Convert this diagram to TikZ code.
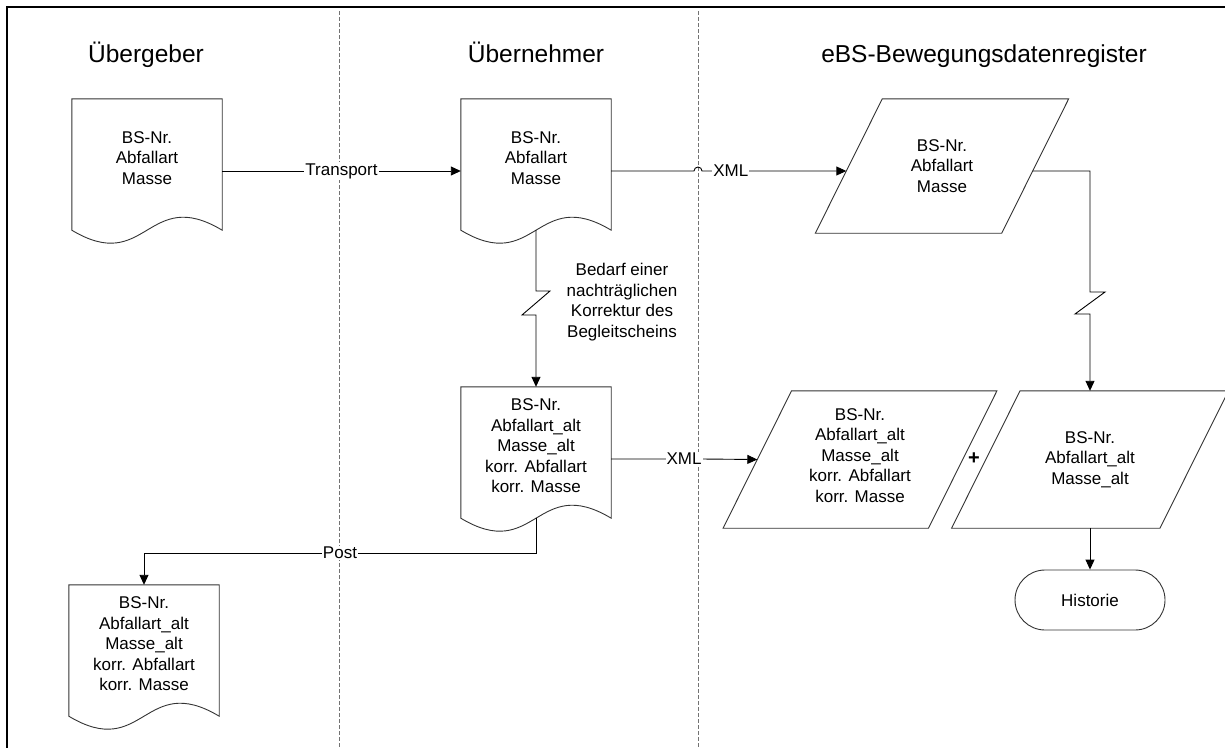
\documentclass[tikz,border=0pt]{standalone}
\usepackage{fontspec}
\setmainfont{Liberation Sans}
\usetikzlibrary{arrows.meta,calc}

% body text of the shapes and connector labels
\newcommand\diagfont{\fontsize{17}{20.5}\selectfont}

% document symbol: straight top and sides, wavy bottom edge
\newcommand\docoutline[1]{%
  \draw[outline] (#1.north west) -- ([yshift=13pt]#1.south west)
    .. controls +(75pt,-45pt) and +(-75pt,45pt) .. ([yshift=13pt]#1.south east)
    -- (#1.north east) -- cycle;}

% data symbol: parallelogram leaning to the right (#2 = half of the slant)
\newcommand\paraoutline[2]{%
  \draw[outline] ([xshift=#2]#1.north west) -- ([xshift=#2]#1.north east)
    -- ([xshift=-#2]#1.south east) -- ([xshift=-#2]#1.south west) -- cycle;}

\begin{document}
\begin{tikzpicture}[x=1pt,y=-1pt,
  frame/.style={line width=2pt,black},
  lane/.style={line width=1pt,black!55,dash pattern=on 4pt off 2pt},
  title/.style={font=\fontsize{24.5}{29}\selectfont,anchor=base,inner sep=0pt},
  outline/.style={draw=black!80,line width=0.9pt},
  docbox/.style={minimum width=150pt,minimum height=144pt,inner sep=0pt},
  parabox/.style={minimum height=#1,inner sep=0pt},
  bodytext/.style={align=center,font=\diagfont,inner sep=0pt},
  conn/.style={line width=0.9pt,black},
  arr/.style={conn,-{Triangle[length=10pt,width=9pt]}},
  lbl/.style={fill=white,inner sep=1pt,font=\diagfont},
]
\useasboundingbox (0,0) rectangle (1225,747);

% swimlane separators and outer frame
\coordinate (lane1) at (339,11);
\coordinate (lane2) at (698,11);
\draw[lane] (lane1) -- ++(0,736);
\draw[lane] (lane2) -- ++(0,736);
\draw[frame] (1226,7) -- (7,7) -- (7,748);

% lane headings
\node[title] (h1) at (146,62.5) {Übergeber};
\node[title] (h2) at (536,62.5) {Übernehmer};
\node[title] (h3) at (984,62.5) {eBS-Bewegungsdatenregister};

% documents
\node[docbox] (doc1) at (147,171) {};
\node[docbox] (doc2) at (536,171) {};
\node[docbox] (doc3) at (536,459) {};
\node[docbox] (doc4) at (144,657) {};
\docoutline{doc1}
\docoutline{doc2}
\docoutline{doc3}
\docoutline{doc4}
\node[bodytext] (doc1t) at ([yshift=13pt]doc1.center) {BS-Nr.\\Abfallart\\Masse};
\node[bodytext] (doc2t) at ([yshift=13pt]doc2.center) {BS-Nr.\\Abfallart\\Masse};
\node[bodytext] (doc3t) at ([yshift=13pt]doc3.center)
  {BS-Nr.\\Abfallart\_alt\\Masse\_alt\\korr. Abfallart\\korr. Masse};
\node[bodytext] (doc4t) at ([yshift=13pt]doc4.center)
  {BS-Nr.\\Abfallart\_alt\\Masse\_alt\\korr. Abfallart\\korr. Masse};

% register records
\node[parabox=134pt,minimum width=186pt] (para1) at (942,166) {};
\node[parabox=137pt,minimum width=205pt] (para3) at (860,459.5) {};
\node[parabox=137pt,minimum width=208pt] (para4) at (1090,459.5) {};
\paraoutline{para1}{33.5pt}
\paraoutline{para3}{34.25pt}
\paraoutline{para4}{34.25pt}
\node[bodytext] (para1t) at (para1.center) {BS-Nr.\\Abfallart\\Masse};
\node[bodytext] (para3t) at ([yshift=4pt]para3.center)
  {BS-Nr.\\Abfallart\_alt\\Masse\_alt\\korr. Abfallart\\korr. Masse};
\node[bodytext] (para4t) at (para4.center) {BS-Nr.\\Abfallart\_alt\\Masse\_alt};
\node[font=\fontsize{20}{24}\selectfont\bfseries,inner sep=0pt] (plus) at (974,459) {+};

% history terminator
\node[draw=black!80,line width=0.9pt,rounded corners=30pt,minimum width=150pt,
      minimum height=60pt,font=\diagfont] (hist) at (1090,600) {Historie};

% note on the correction
\node[bodytext] (note) at (622,302)
  {Bedarf einer\\nachträglichen\\Korrektur des\\Begleitscheins};

% connectors
\draw[arr] (doc1.east) -- node[lbl] {Transport} (doc2.west);

\draw[arr] (doc2.east) -- ([xshift=-4pt]lane2 |- doc2.east)
  arc[start angle=180,end angle=0,radius=4pt]
  -- node[lbl,pos=0.2] {XML} ([xshift=-2.5pt]para1.west |- doc2.east);

\coordinate (brk1) at (536,291);
\draw[arr] ([yshift=13pt]doc2.south) -- (brk1) -- ++(14,0) -- ++(-28,24)
  -- ++(14,0) -- (doc3.north);

\coordinate (brk2) at (1090,292);
\draw[arr] ([xshift=-2.5pt]para1.east |- doc2.east) -| (brk2) -- ++(15,0)
  -- ++(-30,22) -- ++(15,0) -- (para4.north);

\draw[arr] (doc3.east) -- node[lbl,pos=0.88] {XML} ([xshift=-4pt]lane2 |- doc3.east)
  arc[start angle=180,end angle=0,radius=4pt] -- (para3.west);

\coordinate (postbend) at (144,553);
\draw[arr] ([yshift=13pt]doc3.south) |- node[lbl,pos=0.75] {Post} (postbend)
  -- (doc4.north);

\draw[arr] (para4.south) -- (hist.north);
\end{tikzpicture}
\end{document}
